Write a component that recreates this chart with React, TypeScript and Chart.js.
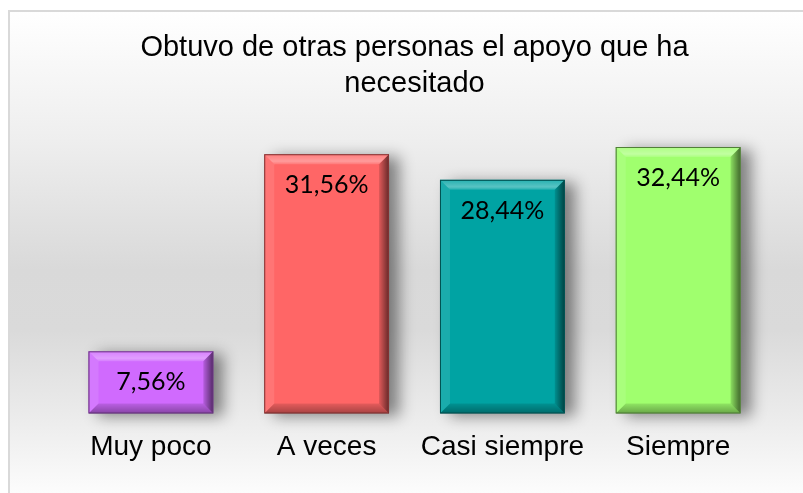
import React, { useEffect, useRef } from "react";
import { Chart, registerables } from "chart.js";

Chart.register(...registerables);

const titleLines = ["Obtuvo de otras personas el apoyo que ha", "necesitado"];
const categories = ["Muy poco", "A veces", "Casi siempre", "Siempre"];
const values = [7.56, 31.56, 28.44, 32.44];
const valueLabels = ["7,56%", "31,56%", "28,44%", "32,44%"];
const barColors = ["#D06AFE", "#FF6666", "#00A3A3", "#A0FF6E"];
const yMax = 35;

function shade(hex: string, f: number): string {
  const n = parseInt(hex.slice(1), 16);
  const r = Math.round(((n >> 16) & 255) * f);
  const g = Math.round(((n >> 8) & 255) * f);
  const b = Math.round((n & 255) * f);
  return `rgb(${r},${g},${b})`;
}

function poly(ctx: CanvasRenderingContext2D, pts: number[][], fill: any) {
  ctx.beginPath();
  ctx.moveTo(pts[0][0], pts[0][1]);
  for (let i = 1; i < pts.length; i++) ctx.lineTo(pts[i][0], pts[i][1]);
  ctx.closePath();
  ctx.fillStyle = fill;
  ctx.fill();
}

const backgroundPlugin = {
  id: "bgPlugin",
  beforeDraw(chart: any) {
    const ctx = chart.ctx as CanvasRenderingContext2D;
    const w = chart.width;
    const h = chart.height;
    ctx.save();
    ctx.fillStyle = "#ffffff";
    ctx.fillRect(0, 0, w, h);
    const g = ctx.createLinearGradient(0, 10, 0, h);
    const span = h - 10;
    const stop = (y: number) => Math.min(1, Math.max(0, (y - 10) / span));
    g.addColorStop(0, "#ffffff");
    g.addColorStop(stop(140), "#eeeeee");
    g.addColorStop(stop(270), "#d9d9d9");
    g.addColorStop(stop(330), "#dadada");
    g.addColorStop(stop(420), "#ececec");
    g.addColorStop(1, "#fcfcfc");
    ctx.fillStyle = g;
    ctx.fillRect(9, 11, w, h);
    ctx.strokeStyle = "#d9d9d9";
    ctx.lineWidth = 2;
    ctx.beginPath();
    ctx.moveTo(9, h + 5);
    ctx.lineTo(9, 11);
    ctx.lineTo(w + 5, 11);
    ctx.stroke();
    ctx.restore();
  },
  beforeDatasetsDraw(chart: any) {
    const ctx = chart.ctx as CanvasRenderingContext2D;
    const meta = chart.getDatasetMeta(0);
    ctx.save();
    meta.data.forEach((el: any) => {
      const { x, y, base, width } = el.getProps(["x", "y", "base", "width"], true);
      ctx.shadowColor = "rgba(0,0,0,0.45)";
      ctx.shadowBlur = 14;
      ctx.shadowOffsetX = 10;
      ctx.shadowOffsetY = 3;
      ctx.fillStyle = "#888888";
      ctx.fillRect(x - width / 2, y, width, base - y);
    });
    ctx.restore();
  },
  afterDatasetsDraw(chart: any) {
    const ctx = chart.ctx as CanvasRenderingContext2D;
    const meta = chart.getDatasetMeta(0);
    ctx.save();
    meta.data.forEach((el: any, i: number) => {
      const { x, y, base, width } = el.getProps(["x", "y", "base", "width"], true);
      const l = x - width / 2;
      const r = x + width / 2;
      const t = y;
      const b = base;
      const bv = Math.min(10, (b - t) / 3);
      const gt = ctx.createLinearGradient(0, t, 0, t + bv);
      gt.addColorStop(0, "rgba(255,255,255,0.15)");
      gt.addColorStop(0.7, "rgba(255,255,255,0.35)");
      gt.addColorStop(1, "rgba(255,255,255,0.12)");
      poly(ctx, [[l, t], [r, t], [r - bv, t + bv], [l + bv, t + bv]], gt);
      poly(ctx, [[l, t], [l + bv, t + bv], [l + bv, b - bv], [l, b]], "rgba(255,255,255,0.10)");
      const gr = ctx.createLinearGradient(r - bv, 0, r, 0);
      gr.addColorStop(0, "rgba(0,0,0,0.12)");
      gr.addColorStop(1, "rgba(0,0,0,0.6)");
      poly(ctx, [[r, t], [r - bv, t + bv], [r - bv, b - bv], [r, b]], gr);
      const gb = ctx.createLinearGradient(0, b - bv, 0, b);
      gb.addColorStop(0, "rgba(0,0,0,0.10)");
      gb.addColorStop(1, "rgba(0,0,0,0.35)");
      poly(ctx, [[l, b], [r, b], [r - bv, b - bv], [l + bv, b - bv]], gb);
      ctx.strokeStyle = shade(barColors[i], 0.5);
      ctx.lineWidth = 1;
      ctx.strokeRect(l + 0.5, t + 0.5, width - 1, b - t - 1);
      ctx.fillStyle = "#000000";
      ctx.font = "25px Lato, 'Open Sans', sans-serif";
      ctx.textAlign = "center";
      ctx.textBaseline = "alphabetic";
      ctx.fillText(valueLabels[i], x, t + 39);
    });
    ctx.restore();
  },
};

export default function App() {
  const canvasRef = useRef<HTMLCanvasElement | null>(null);

  useEffect(() => {
    if (!canvasRef.current) return;
    const chart = new Chart(canvasRef.current, {
      type: "bar",
      data: {
        labels: categories,
        datasets: [
          {
            data: values,
            backgroundColor: barColors,
            borderWidth: 0,
            barPercentage: 0.71,
            categoryPercentage: 1,
          },
        ],
      },
      options: {
        responsive: false,
        animation: false,
        devicePixelRatio: 1,
        layout: { padding: { top: 10, left: 63, right: 37, bottom: 12 } },
        plugins: {
          legend: { display: false },
          tooltip: { enabled: false },
          title: {
            display: true,
            text: titleLines,
            color: "#000000",
            font: { family: "'Liberation Sans', Arial, sans-serif", size: 29, weight: "normal", lineHeight: 1.241 },
            padding: { top: 20, bottom: 24 },
          },
        },
        scales: {
          x: {
            grid: { display: false, drawTicks: false },
            border: { display: false },
            ticks: {
              color: "#000000",
              font: { family: "'Liberation Sans', Arial, sans-serif", size: 28 },
              padding: 17,
              maxRotation: 0,
              autoSkip: false,
            },
          },
          y: { display: false, min: 0, max: yMax },
        },
      },
      plugins: [backgroundPlugin],
    });
    return () => chart.destroy();
  }, []);

  return (
    <div style={{ position: "absolute", left: 0, top: 0, width: 803, height: 493 }}>
      <canvas ref={canvasRef} width={803} height={493} style={{ display: "block" }} />
    </div>
  );
}
